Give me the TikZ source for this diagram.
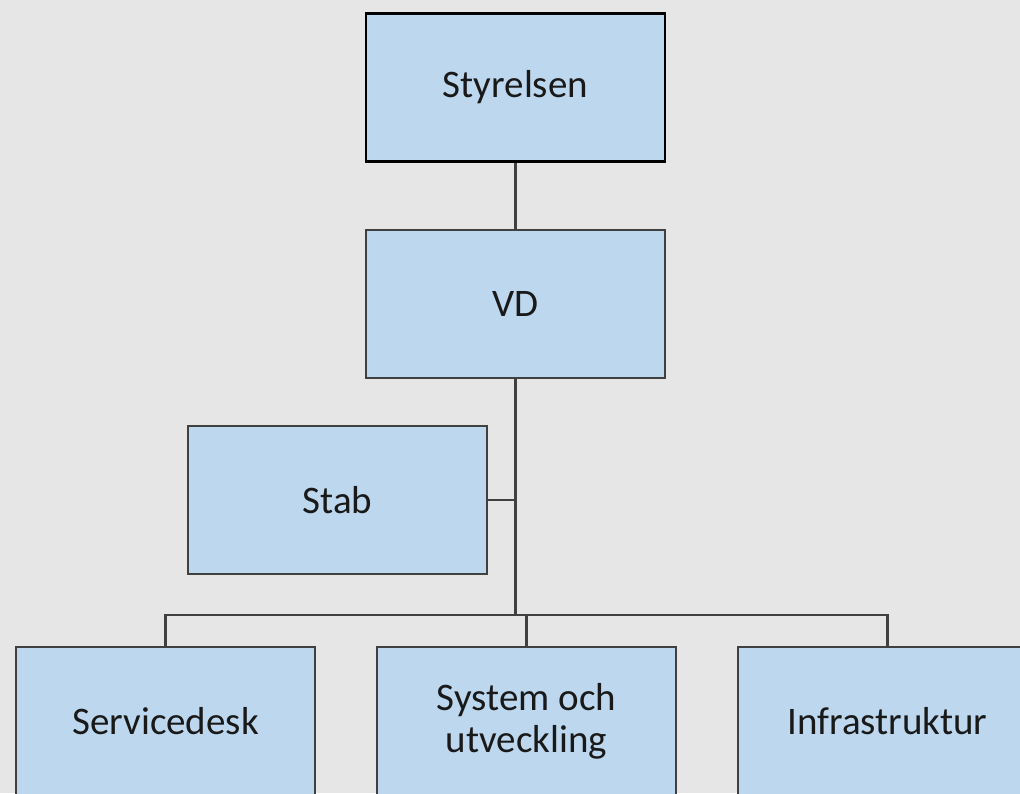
\documentclass[tikz,border=0pt]{standalone}
\usepackage{fontspec}
\setmainfont{Carlito}
\definecolor{bg}{HTML}{E6E6E6}
\definecolor{boxfill}{HTML}{BDD7EE}
\definecolor{edge}{HTML}{404040}
\begin{document}
\begin{tikzpicture}[x=1pt,y=-1pt,
  orgbox/.style={draw=edge, fill=boxfill, line width=2.2pt, minimum width=299pt, minimum height=148pt,
    inner sep=0pt, align=center, font=\fontsize{39}{42}\selectfont, text=black!90},
  conn/.style={draw=edge, line width=3pt},
  thin conn/.style={draw=edge, line width=2.2pt}]
\useasboundingbox (0,0) rectangle (1020,793);
\fill[bg] (0,0) rectangle (1020,793);
\clip (0,0) rectangle (1020,793);
\node[orgbox, draw=black, line width=2.6pt] (styr) at (515.5,87.5) {Styrelsen};
\node[orgbox] (vd) at (515.5,304) {VD};
\node[orgbox] (stab) at (337.5,500) {Stab};
\node[orgbox] (sd) at (165.5,721) {Servicedesk};
\node[orgbox] (sys) at (526.5,721) {System och\\utveckling};
\node[orgbox] (infra) at (887.5,721) {Infrastruktur};
\coordinate (bus) at (515.5,615);
\draw[conn] (styr.south) -- (vd.north);
\draw[conn] (vd.south) -- (vd.south |- bus);
\draw[thin conn] (stab.east) -- (stab.east -| vd.south);
\draw[thin conn] (sd.north) -- (sd.north |- bus) -- (infra.north |- bus) -- (infra.north);
\draw[thin conn] (sys.north) -- (sys.north |- bus);
\end{tikzpicture}
\end{document}
